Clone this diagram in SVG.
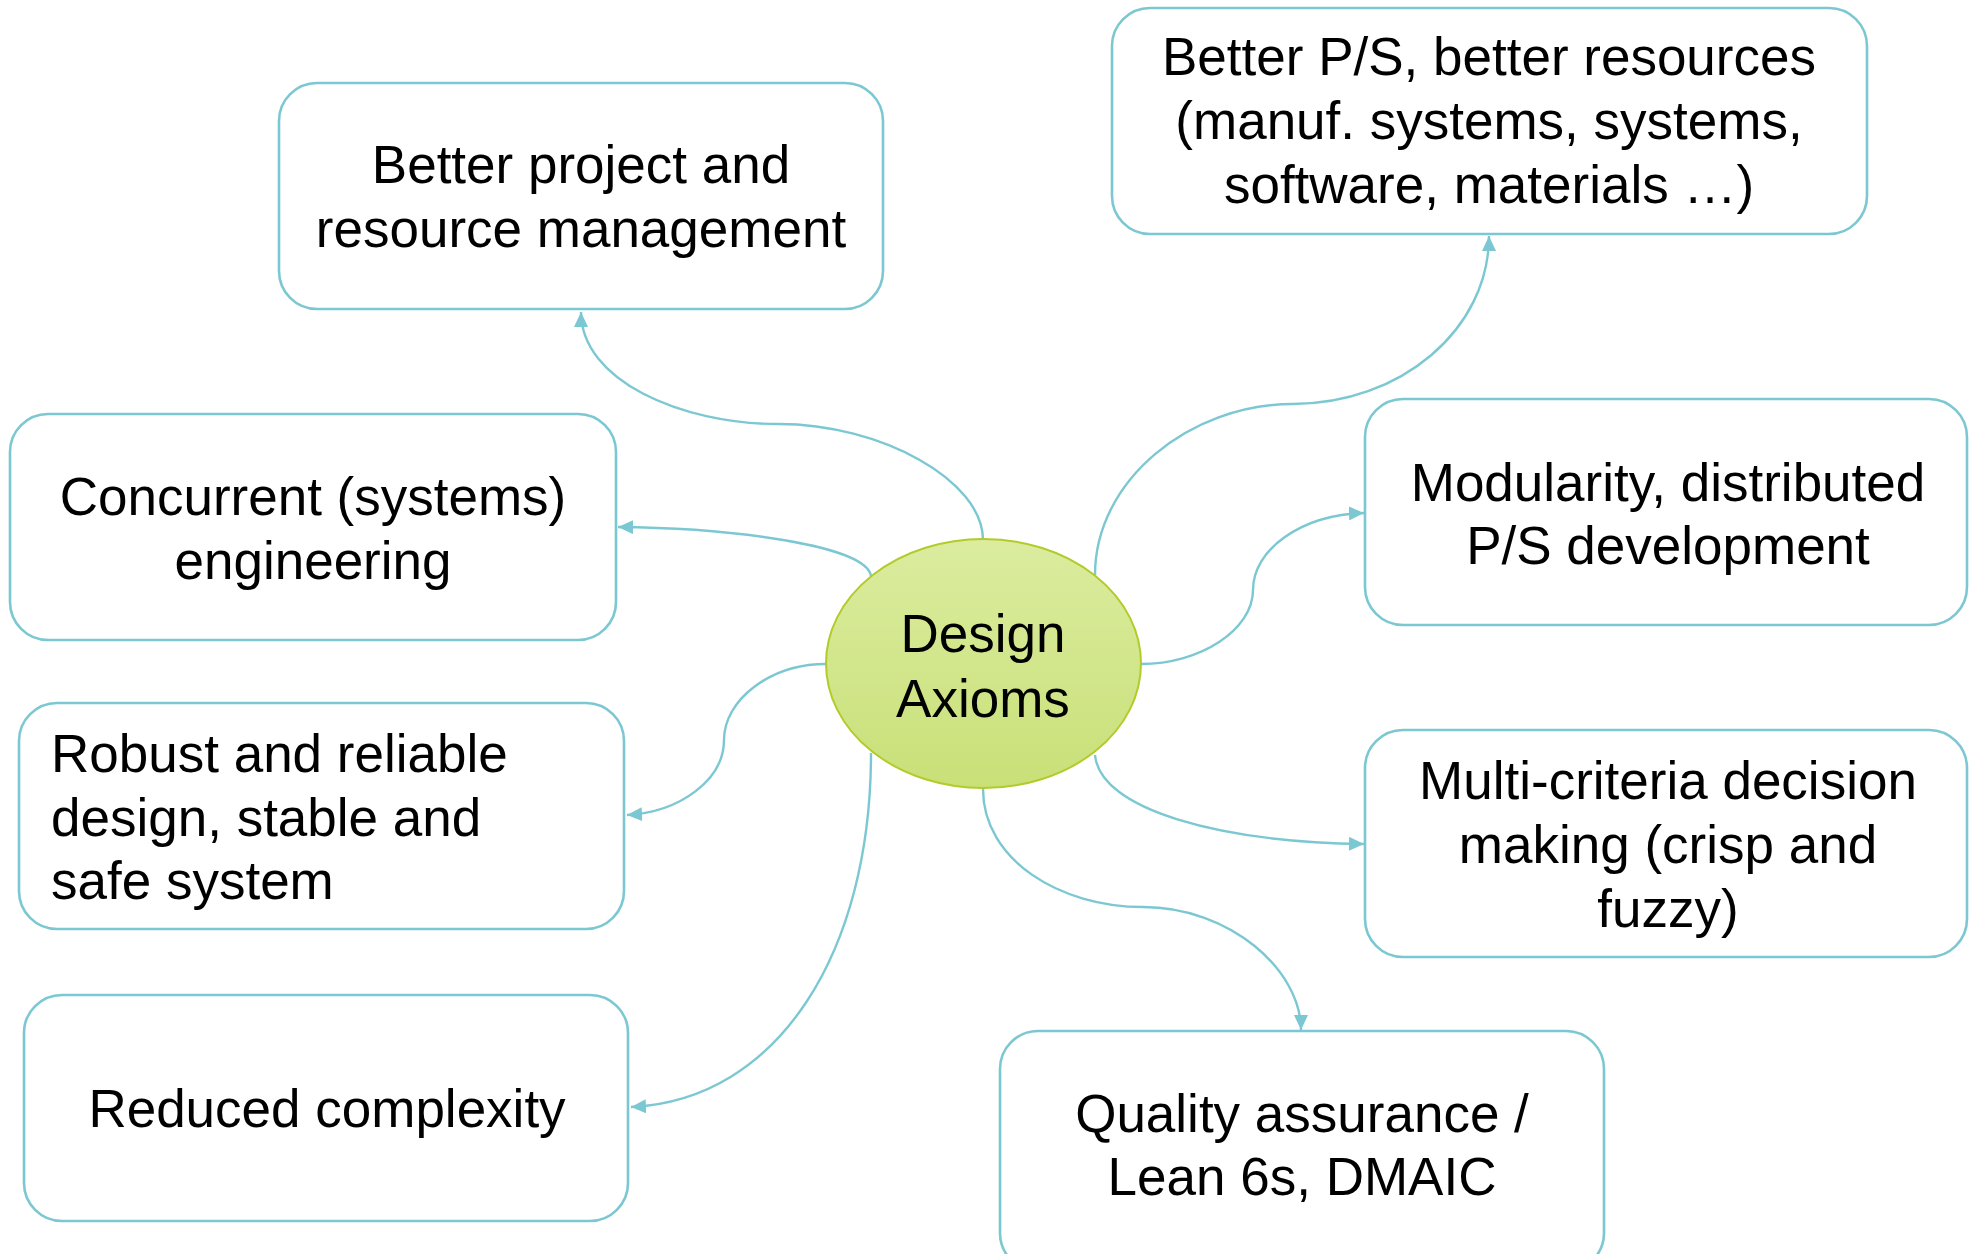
<svg xmlns="http://www.w3.org/2000/svg" width="1969" height="1254" viewBox="0 0 1969 1254">
  <style>
    .box { fill: #ffffff; stroke: #7cc8d2; stroke-width: 2.6; }
    .link { fill: none; stroke: #7cc8d2; stroke-width: 2.4; marker-end: url(#arrow); }
    .label { font-family: "Liberation Sans", Arial, sans-serif; font-size: 53px; fill: #000000; }
    .mid { text-anchor: middle; }
  </style>
  <defs>
    <marker id="arrow" markerUnits="userSpaceOnUse" markerWidth="16" markerHeight="14" refX="15" refY="7" orient="auto">
      <path d="M0,0 L15,7 L0,14 z" fill="#7cc8d2"/>
    </marker>
    <linearGradient id="hubFill" x1="0" y1="0" x2="0" y2="1">
      <stop offset="0" stop-color="#dbec9f"/>
      <stop offset="1" stop-color="#c9e078"/>
    </linearGradient>
  </defs>

  <rect width="1969" height="1254" fill="#ffffff"/>

  <!-- connectors from the hub to each outcome -->
  <g id="connectors">
    <path class="link" d="M983,540 C983,480 880,424 779,424 C680,424 581,380 581,312"/>
    <path class="link" d="M1095,575 C1095,480 1190,404 1293,404 C1400,404 1489,330 1489,236"/>
    <path class="link" d="M871,576 C866,545 730,528 618,527"/>
    <path class="link" d="M826,664 C770,664 724,700 724,740 C724,780 680,812 627,815"/>
    <path class="link" d="M871,753 C871,950 780,1100 631,1107"/>
    <path class="link" d="M983,789 C983,860 1060,907 1143,907 C1230,907 1301,970 1301,1030"/>
    <path class="link" d="M1141,664 C1200,664 1253,630 1253,590 C1253,550 1300,515 1364,513"/>
    <path class="link" d="M1095,755 C1100,810 1220,842 1364,844"/>
  </g>

  <g id="hub">
    <ellipse cx="983.5" cy="663.5" rx="157.5" ry="124.5" fill="url(#hubFill)" stroke="#b2cb2a" stroke-width="2"/>
    <text class="label mid" x="983" y="652">Design</text>
    <text class="label mid" x="983" y="717">Axioms</text>
  </g>

  <g id="project-management">
    <rect class="box" x="279" y="83" width="604" height="226" rx="38" ry="38"/>
    <text class="label mid" x="581" y="183">Better project and</text>
    <text class="label mid" x="581" y="247">resource management</text>
  </g>

  <g id="better-ps">
    <rect class="box" x="1112" y="8" width="755" height="226" rx="38" ry="38"/>
    <text class="label mid" x="1489" y="75">Better P/S, better resources</text>
    <text class="label mid" x="1489" y="139">(manuf. systems, systems,</text>
    <text class="label mid" x="1489" y="203">software, materials …)</text>
  </g>

  <g id="concurrent-engineering">
    <rect class="box" x="10" y="414" width="606" height="226" rx="38" ry="38"/>
    <text class="label mid" x="313" y="515">Concurrent (systems)</text>
    <text class="label mid" x="313" y="579">engineering</text>
  </g>

  <g id="robust-design">
    <rect class="box" x="19" y="703" width="605" height="226" rx="38" ry="38"/>
    <text class="label" x="51" y="772">Robust and reliable</text>
    <text class="label" x="51" y="836">design, stable and</text>
    <text class="label" x="51" y="899">safe system</text>
  </g>

  <g id="reduced-complexity">
    <rect class="box" x="24" y="995" width="604" height="226" rx="38" ry="38"/>
    <text class="label mid" x="327" y="1127">Reduced complexity</text>
  </g>

  <g id="quality-assurance">
    <rect class="box" x="1000" y="1031" width="604" height="240" rx="38" ry="38"/>
    <text class="label mid" x="1302" y="1132">Quality assurance /</text>
    <text class="label mid" x="1302" y="1195">Lean 6s, DMAIC</text>
  </g>

  <g id="modularity">
    <rect class="box" x="1365" y="399" width="602" height="226" rx="38" ry="38"/>
    <text class="label mid" x="1668" y="501">Modularity, distributed</text>
    <text class="label mid" x="1668" y="564">P/S development</text>
  </g>

  <g id="multi-criteria">
    <rect class="box" x="1365" y="730" width="602" height="227" rx="38" ry="38"/>
    <text class="label mid" x="1668" y="799">Multi-criteria decision</text>
    <text class="label mid" x="1668" y="863">making (crisp and</text>
    <text class="label mid" x="1668" y="927">fuzzy)</text>
  </g>
</svg>
